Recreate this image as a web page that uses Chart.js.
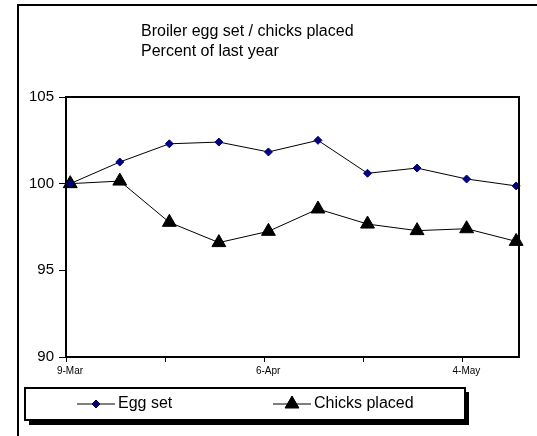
<!DOCTYPE html>
<html>
<head>
<meta charset="utf-8">
<script src="https://cdn.jsdelivr.net/npm/chart.js@4/dist/chart.umd.min.js"></script>
<style>
  html, body { margin: 0; padding: 0; background: #fff; }
  #wrap { width: 537px; height: 436px; position: relative; }
</style>
</head>
<body>
<div id="wrap"><canvas id="broilerChart"></canvas></div>
<script>
// weekly data, percent of last year
const weeks = ['9-Mar', '16-Mar', '23-Mar', '30-Mar', '6-Apr', '13-Apr', '20-Apr', '27-Apr', '4-May', '11-May'];
const dayOffsets = [0, 7, 14, 21, 28, 35, 42, 49, 56, 63];
const eggSet = [100.0, 101.25, 102.3, 102.4, 101.83, 102.5, 100.6, 100.9, 100.27, 99.87];
const chicksPlaced = [100.0, 100.15, 97.77, 96.6, 97.25, 98.54, 97.67, 97.29, 97.4, 96.67];
const xTickDays = [0, 14, 28, 42, 56];
const xTickLabels = ['9-Mar', '', '6-Apr', '', '4-May'];
const yTicks = [90, 95, 100, 105];
const titleLines = ['Broiler egg set / chicks placed', 'Percent of last year'];

const FONT = '"Liberation Sans", Arial, sans-serif';
const X_SHIFT = 0.6; // axis starts a bit before the first week

// frame, title, plot border and boxed legend
const decorations = {
  id: 'decorations',
  afterDraw(chart) {
    const ctx = chart.ctx;
    const a = chart.chartArea;
    ctx.save();
    ctx.strokeStyle = '#000';
    ctx.lineWidth = 2;
    // outer frame (runs off right/bottom)
    ctx.beginPath();
    ctx.moveTo(18, 440);
    ctx.lineTo(18, 5);
    ctx.lineTo(540, 5);
    ctx.stroke();
    // plot border top/right
    ctx.beginPath();
    ctx.moveTo(a.left, a.top);
    ctx.lineTo(a.right, a.top);
    ctx.lineTo(a.right, a.bottom);
    ctx.stroke();

    // title
    ctx.fillStyle = '#000';
    ctx.font = '16px ' + FONT;
    ctx.textAlign = 'left';
    ctx.textBaseline = 'middle';
    titleLines.forEach((t, i) => ctx.fillText(t, 141, 32 + i * 20));

    // legend box with shadow
    ctx.fillStyle = '#000';
    ctx.fillRect(29, 392, 440, 33);
    ctx.fillStyle = '#fff';
    ctx.fillRect(25, 388, 440, 32);
    ctx.strokeRect(25, 388, 440, 32);

    const items = [
      { ds: chart.data.datasets[0], x: 77 },
      { ds: chart.data.datasets[1], x: 273 }
    ];
    const ly = 404;
    items.forEach(it => {
      ctx.strokeStyle = '#000';
      ctx.lineWidth = 1;
      ctx.beginPath();
      ctx.moveTo(it.x, ly);
      ctx.lineTo(it.x + 38, ly);
      ctx.stroke();
      Chart.helpers.drawPoint(ctx, {
        pointStyle: it.ds.pointStyle,
        radius: it.ds.pointRadius,
        borderWidth: 1
      }, it.x + 19, ly);
      ctx.fillStyle = it.ds.pointBackgroundColor;
      ctx.strokeStyle = it.ds.pointBorderColor;
      ctx.fill();
      ctx.fillStyle = '#000';
      ctx.font = '16px ' + FONT;
      ctx.textAlign = 'left';
      ctx.textBaseline = 'middle';
      ctx.fillText(it.ds.label, it.x + 41, ly);
    });
    ctx.restore();
  }
};

new Chart(document.getElementById('broilerChart'), {
  type: 'line',
  data: {
    datasets: [
      {
        label: 'Egg set',
        data: dayOffsets.map((d, i) => ({ x: d, y: eggSet[i] })),
        borderColor: '#000',
        borderWidth: 1,
        pointStyle: 'rectRot',
        pointRadius: 4,
        pointBackgroundColor: '#000080',
        pointBorderColor: '#000080',
        tension: 0
      },
      {
        label: 'Chicks placed',
        data: dayOffsets.map((d, i) => ({ x: d, y: chicksPlaced[i] })),
        borderColor: '#000',
        borderWidth: 1,
        pointStyle: 'triangle',
        pointRadius: 8,
        pointBackgroundColor: '#000',
        pointBorderColor: '#000',
        tension: 0
      }
    ]
  },
  options: {
    responsive: true,
    maintainAspectRatio: false,
    animation: false,
    clip: false,
    layout: { padding: { top: 97, right: 18, left: 0, bottom: 0 } },
    plugins: {
      legend: { display: false },
      title: { display: false },
      tooltip: { enabled: false }
    },
    scales: {
      x: {
        type: 'linear',
        min: -X_SHIFT,
        max: 63.4,
        afterBuildTicks: s => { s.ticks = xTickDays.map(d => ({ value: d - X_SHIFT })); },
        afterFit: s => { s.height = 79; },
        ticks: {
          autoSkip: false,
          maxRotation: 0,
          padding: 3,
          labelOffset: 4,
          color: '#000',
          font: { family: FONT, size: 10 },
          callback: (v, i) => xTickLabels[i]
        },
        grid: { drawOnChartArea: false, tickLength: 5, color: '#000', lineWidth: 1 },
        border: { color: '#000', width: 2 }
      },
      y: {
        min: 90,
        max: 105,
        afterBuildTicks: s => { s.ticks = yTicks.map(v => ({ value: v })); },
        afterFit: s => { s.width = 66; },
        ticks: {
          padding: 5,
          color: '#000',
          font: { family: FONT, size: 15 }
        },
        grid: { drawOnChartArea: false, tickLength: 7, color: '#000', lineWidth: 1 },
        border: { color: '#000', width: 2 }
      }
    }
  },
  plugins: [decorations]
});
</script>
</body>
</html>
